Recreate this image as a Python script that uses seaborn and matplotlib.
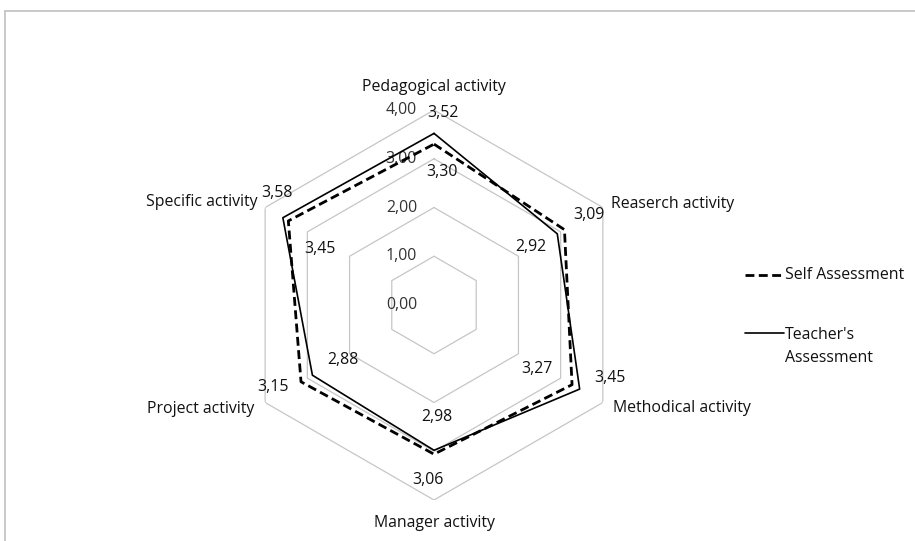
import numpy as np
import pandas as pd
import matplotlib
matplotlib.use("Agg")
import matplotlib.pyplot as plt
from matplotlib.lines import Line2D
import seaborn as sns

# Data
categories = ["Pedagogical activity", "Reaserch activity", "Methodical activity",
              "Manager activity", "Project activity", "Specific activity"]
self_scores = [3.30, 3.09, 3.27, 3.06, 3.15, 3.45]
teacher_scores = [3.52, 2.92, 3.45, 2.98, 2.88, 3.58]
ring_values = [0, 1, 2, 3, 4]

sns.set_theme(style="white")
plt.rcParams["font.family"] = ["Open Sans", "DejaVu Sans"]
FS = 11.4
TXT = "#111111"
W, H = 915, 541

n = len(categories)
theta = np.arange(n) * 2 * np.pi / n
theta_c = np.append(theta, theta[0] + 2 * np.pi)

fig = plt.figure(figsize=(W / 100, H / 100), dpi=100)
cx, cy, R = 434, 305, 195
ax = fig.add_axes([(cx - R) / W, (H - cy - R) / H, 2 * R / W, 2 * R / H], projection="polar")
ax.set_theta_offset(np.pi / 2)
ax.set_theta_direction(-1)
ax.set_ylim(0, 4)
ax.grid(False)
ax.set_xticks([])
ax.set_yticks([])
ax.spines["polar"].set_visible(False)
ax.patch.set_alpha(0)

# hexagonal grid rings
for r in ring_values[1:]:
    ax.plot(theta_c, [r] * (n + 1), color="#c6c6c6", lw=0.9, zorder=1)

# value axis labels
for r in ring_values:
    ax.annotate(f"{r:.2f}".replace(".", ","), xy=(0, r), xytext=(-17, 0),
                textcoords="offset pixels", ha="right", va="center", fontsize=FS,
                color="#333333")

df = pd.DataFrame({
    "theta": np.concatenate([theta_c, theta_c]),
    "score": self_scores + self_scores[:1] + teacher_scores + teacher_scores[:1],
    "series": ["Self Assessment"] * (n + 1) + ["Teacher's Assessment"] * (n + 1),
})

sns.lineplot(data=df[df.series == "Self Assessment"], x="theta", y="score", sort=False,
             estimator=None, color="black", lw=2.0, ax=ax, zorder=3)
ax.lines[-1].set_dashes([3.2, 1.6])
sns.lineplot(data=df[df.series == "Teacher's Assessment"], x="theta", y="score", sort=False,
             estimator=None, color="black", lw=1.2, ax=ax, zorder=4)
ax.set_xlabel("")
ax.set_ylabel("")

# data labels (pixel offsets from each point)
self_off = [(8, -28), (24, 15), (-35, 16), (-6, -26), (-28, -5), (32, -28)]
teach_off = [(9, 20), (-26, -13), (30, 11), (3, 33), (31, 15), (-6, 25)]
for t, v, o in zip(theta, self_scores, self_off):
    ax.annotate(f"{v:.2f}".replace(".", ","), xy=(t, v), xytext=o, textcoords="offset pixels",
                ha="center", va="center", fontsize=FS, color=TXT)
for t, v, o in zip(theta, teacher_scores, teach_off):
    ax.annotate(f"{v:.2f}".replace(".", ","), xy=(t, v), xytext=o, textcoords="offset pixels",
                ha="center", va="center", fontsize=FS, color=TXT)

# category labels
cat_off = [((0, 23), "center"), ((8, 4), "left"), ((10, -6), "left"),
           ((0, -23), "center"), ((-11, -6), "right"), ((-8, 5), "right")]
for t, c, (o, ha) in zip(theta, categories, cat_off):
    ax.annotate(c, xy=(t, 4), xytext=o, textcoords="offset pixels",
                ha=ha, va="center", fontsize=FS, color=TXT)

# legend drawn at the right
fig.add_artist(Line2D([745 / W, 784 / W], [1 - 275 / H] * 2, color="black", lw=2.0,
                      dashes=[3.2, 1.6], transform=fig.transFigure))
fig.text(785 / W, 1 - 275 / H, "Self Assessment", ha="left", va="center", fontsize=FS,
         color=TXT)
fig.add_artist(Line2D([745 / W, 784 / W], [1 - 333 / H] * 2, color="black", lw=1.2,
                      transform=fig.transFigure))
fig.text(785 / W, 1 - 335 / H, "Teacher's", ha="left", va="center", fontsize=FS, color=TXT)
fig.text(785 / W, 1 - 358 / H, "Assessment", ha="left", va="center", fontsize=FS, color=TXT)

# chart frame (only left and top visible in the crop)
fig.add_artist(Line2D([5 / W, 5 / W], [0, 1 - 11 / H], color="#c0c0c0", lw=1.2,
                      transform=fig.transFigure))
fig.add_artist(Line2D([5 / W, 1], [1 - 11 / H] * 2, color="#c0c0c0", lw=1.2,
                      transform=fig.transFigure))

fig.savefig("out.png", dpi=100, facecolor="white")
